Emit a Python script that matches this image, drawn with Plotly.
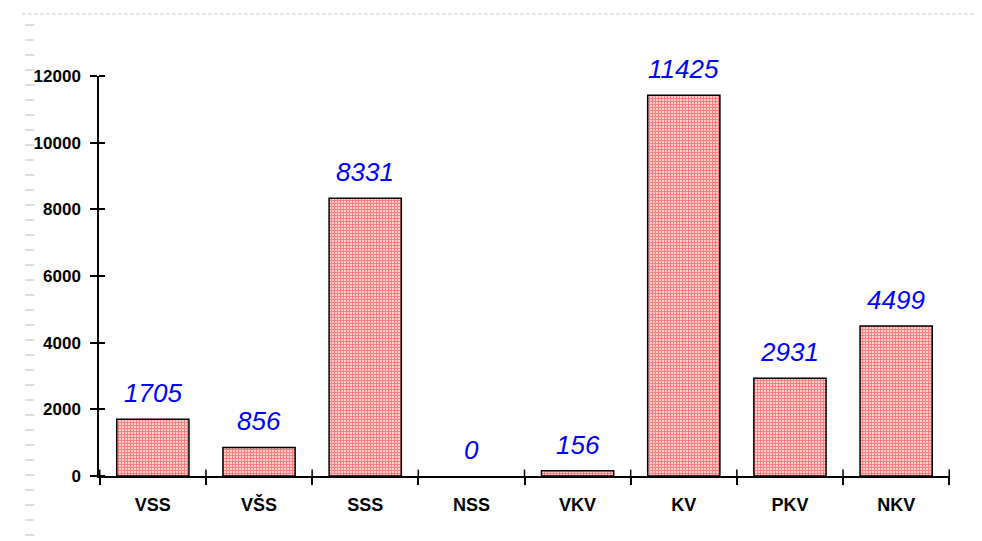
import plotly.graph_objects as go

categories = ["VSS", "VŠS", "SSS", "NSS", "VKV", "KV", "PKV", "NKV"]
values = [1705, 856, 8331, 0, 156, 11425, 2931, 4499]
y_ticks = [0, 2000, 4000, 6000, 8000, 10000, 12000]

fig = go.Figure()
fig.add_trace(go.Bar(
    x=categories, y=values, width=0.68,
    marker=dict(color="white",
                line=dict(color="black", width=[1.5 if v > 0 else 0 for v in values]),
                pattern=dict(shape="+", fgcolor="#ff0000", bgcolor="white",
                             size=3, solidity=0.7, fillmode="overlay")),
    showlegend=False,
))

for c, v in zip(categories, values):
    fig.add_annotation(x=c, y=v, text=str(v), showarrow=False,
                       yanchor="bottom", yshift=9,
                       font=dict(family="Liberation Sans, Arial", size=26,
                                 color="#0000ff", style="italic"))

fig.update_layout(
    width=974, height=533,
    margin=dict(l=91, r=32, t=68, b=65),
    plot_bgcolor="white", paper_bgcolor="white",
    xaxis=dict(showline=True, linecolor="black", linewidth=1.5,
               ticks="outside", tickson="boundaries", ticklen=7,
               tickcolor="black", tickwidth=1.5, ticklabelstandoff=12,
               tickfont=dict(family="Liberation Sans, Arial", size=18,
                             color="black", weight="bold"),
               showgrid=False, zeroline=False),
    yaxis=dict(range=[0, 12000], tickvals=y_ticks,
               ticktext=[str(t) for t in y_ticks], showline=True,
               linecolor="black", linewidth=1.5, ticks="outside",
               ticklen=7, tickcolor="black", tickwidth=1.5,
               ticklabelstandoff=6,
               minor=dict(tickvals=y_ticks, ticks="inside", ticklen=6,
                          tickcolor="black", tickwidth=1.5, showgrid=False),
               tickfont=dict(family="Liberation Sans, Arial", size=17,
                             color="black", weight="bold"),
               showgrid=False, zeroline=False),
)

# inner half of the crossing category ticks
for i in range(len(categories) + 1):
    fig.add_shape(type="line", xref="x", yref="paper",
                  x0=i - 0.5, x1=i - 0.5, y0=0, y1=0.016,
                  line=dict(color="black", width=1.5))

# faint dotted frame artifacts at top and left
fig.add_shape(type="line", xref="paper", yref="paper",
              x0=-0.09, x1=1.04, y0=1.155, y1=1.155,
              line=dict(color="#dddddd", width=2, dash="dot"))
fig.add_shape(type="line", xref="paper", yref="paper",
              x0=-0.0815, x1=-0.0815, y0=-0.15, y1=1.13,
              line=dict(color="#dddddd", width=9, dash="2px,13px"))

fig.write_html("out.html")
